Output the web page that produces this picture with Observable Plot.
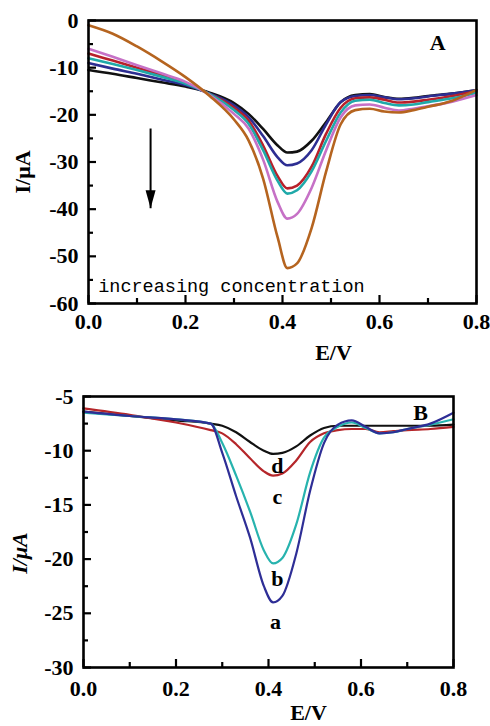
<!DOCTYPE html>
<html><head><meta charset="utf-8">
<script src="https://cdn.jsdelivr.net/npm/d3@7"></script>
<script src="https://cdn.jsdelivr.net/npm/@observablehq/plot@0.6"></script>
<style>
body{margin:0;background:#fff;width:490px;height:726px;overflow:hidden}
svg{display:block}
</style></head><body><div id="chart"></div>
<script>
// ---------- Panel A data ----------
const potentialA = [0, 0.05, 0.1, 0.15, 0.2, 0.25, 0.3, 0.33, 0.36, 0.39, 0.41, 0.43, 0.46, 0.49, 0.52, 0.55, 0.58, 0.61, 0.64, 0.67, 0.7, 0.75, 0.8];
const seriesNamesA = ["conc 1", "conc 2", "conc 3", "conc 4", "conc 5", "conc 6"];
const seriesColorsA = ["#111111", "#2d2e92", "#b8202a", "#1fa9a9", "#c671c6", "#b5641f"];
const conc1A = [-10.5, -11.3, -12.2, -13.1, -14.0, -15.3, -17.5, -19.8, -23.0, -26.5, -28.0, -27.8, -25.5, -21.5, -17.3, -15.8, -15.6, -16.2, -16.6, -16.4, -16.0, -15.5, -14.8];
const conc2A = [-9.0, -10.2, -11.3, -12.5, -13.7, -15.5, -18.0, -20.5, -24.5, -29.0, -30.7, -30.3, -27.5, -22.0, -17.3, -16.0, -15.8, -16.3, -16.7, -16.5, -16.1, -15.5, -14.8];
const conc3A = [-7.0, -8.5, -10.0, -11.5, -13.2, -15.6, -18.5, -21.2, -26.5, -33.0, -35.6, -35.0, -31.0, -24.0, -18.5, -16.5, -16.3, -16.8, -17.4, -17.2, -16.8, -16.0, -15.0];
const conc4A = [-8.0, -9.2, -10.5, -11.9, -13.4, -15.6, -19.0, -21.9, -27.5, -34.0, -36.7, -36.0, -32.0, -25.5, -19.5, -17.0, -16.8, -17.5, -18.0, -17.8, -17.3, -16.5, -15.3];
const conc5A = [-6.0, -7.7, -9.5, -11.2, -13.0, -15.8, -19.8, -22.9, -29.5, -38.5, -42.0, -41.0, -35.5, -27.5, -20.5, -18.0, -17.8, -18.5, -19.1, -18.7, -18.2, -17.2, -15.8];
const conc6A = [-1.0, -2.8, -5.5, -8.6, -12.0, -16.0, -21.0, -25.4, -33.5, -46.0, -52.5, -51.5, -44.0, -32.0, -22.0, -19.0, -18.7, -19.3, -19.5, -19.0, -18.3, -17.0, -14.7];
const valuesA = [conc1A, conc2A, conc3A, conc4A, conc5A, conc6A];

const xMajor = [0, 0.2, 0.4, 0.6, 0.8];
const xMinor = [0.1, 0.3, 0.5, 0.7];
const yMajorA = [0, -10, -20, -30, -40, -50, -60];
const yMinorA = [-5, -15, -25, -35, -45, -55];

const annotationTextA = ["increasing concentration"];
const annotationPosA = [0.02, -57.6];
const arrowA = {x: 0.128, yStart: -22.9, yEnd: -39.8};
const panelLabelA = {text: "A", x: 0.72, y: -4.7};

// ---------- Panel B data ----------
const potentialB = [0, 0.1, 0.2, 0.275, 0.3, 0.33, 0.36, 0.39, 0.41, 0.43, 0.46, 0.49, 0.52, 0.55, 0.58, 0.61, 0.64, 0.67, 0.7, 0.75, 0.8];
const seriesNamesB = ["d", "c", "b", "a"];
const seriesColorsB = ["#111111", "#b5262a", "#27b3ae", "#2e2e96"];
const curveD = [-6.4, -6.8, -7.2, -7.5, -7.7, -8.3, -9.2, -10.0, -10.3, -10.2, -9.6, -8.6, -7.9, -7.7, -7.7, -7.7, -7.7, -7.7, -7.7, -7.7, -7.6];
const curveC = [-6.1, -6.7, -7.4, -8.1, -8.4, -9.4, -10.7, -11.9, -12.3, -12.1, -10.9, -9.2, -8.4, -8.1, -8.0, -8.0, -8.3, -8.2, -8.1, -8.0, -7.8];
const curveB = [-6.5, -6.8, -7.1, -7.5, -9.3, -12.3, -15.6, -19.2, -20.4, -19.9, -16.8, -12.0, -8.8, -7.8, -7.4, -7.9, -8.4, -8.3, -8.0, -7.6, -7.1];
const curveA = [-6.4, -6.8, -7.1, -7.5, -10.2, -14.2, -18.0, -22.5, -24.0, -23.4, -19.5, -13.7, -9.3, -7.6, -7.2, -7.8, -8.4, -8.3, -8.0, -7.5, -6.5];
const valuesB = [curveD, curveC, curveB, curveA];

const yMajorB = [-5, -10, -15, -20, -25, -30];
const yMinorB = [-7.5, -12.5, -17.5, -22.5, -27.5];

const curveLabelsB = ["d", "c", "b", "a"];
const curveLabelXB = [0.419, 0.419, 0.419, 0.415];
const curveLabelYB = [-11.4, -14.3, -21.8, -25.8];
const panelLabelB = {text: "B", x: 0.729, y: -6.5};

// ---------- helpers ----------
function tidy(potentials, names, values) {
  const rows = [];
  names.forEach((name, i) => potentials.forEach((e, j) => rows.push({E: e, I: values[i][j], series: name})));
  return rows;
}
const font = "Liberation Serif";
const headDown = {draw(ctx) { ctx.moveTo(0, 9); ctx.lineTo(-5, -9); ctx.lineTo(5, -9); ctx.closePath(); }};

function ticks(o) {
  const fw = o.width - o.marginLeft - o.marginRight;
  const fh = o.height - o.marginTop - o.marginBottom;
  return [
    Plot.tickX(xMajor, {x: d => d, insetTop: fh - 8, strokeWidth: 2.2}),
    Plot.tickX(xMinor, {x: d => d, insetTop: fh - 5, strokeWidth: 2.2}),
    Plot.tickY(o.yMajor, {y: d => d, insetRight: fw - 8, strokeWidth: 2.2}),
    Plot.tickY(o.yMinor, {y: d => d, insetRight: fw - 5, strokeWidth: 2.2}),
    Plot.axisX(xMajor, {tickSize: 0, tickPadding: o.xPad, tickFormat: d => d.toFixed(1), label: null, fontSize: 22, fontWeight: "bold"}),
    Plot.axisY(o.yMajor, {tickSize: 0, tickPadding: 10, tickFormat: d => String(d), label: null, fontSize: 22, fontWeight: "bold"}),
    Plot.frame({strokeWidth: 2.6})
  ];
}

// ---------- Panel A ----------
const optA = {width: 490, height: 365, marginTop: 20, marginBottom: 62, marginLeft: 88, marginRight: 14, yMajor: yMajorA, yMinor: yMinorA, xPad: 10};
const plotA = Plot.plot({
  width: optA.width, height: optA.height,
  marginTop: optA.marginTop, marginBottom: optA.marginBottom, marginLeft: optA.marginLeft, marginRight: optA.marginRight,
  style: {fontFamily: font, fontSize: "22px", fontWeight: "bold", background: "#fff", color: "#000"},
  x: {domain: [0, 0.8], axis: null},
  y: {domain: [-60, 0], axis: null},
  color: {domain: seriesNamesA, range: seriesColorsA},
  marks: [
    Plot.line(tidy(potentialA, seriesNamesA, valuesA), {x: "E", y: "I", stroke: "series", z: "series", strokeWidth: 2.6, curve: "monotone-x"}),
    Plot.link([arrowA], {x1: "x", x2: "x", y1: "yStart", y2: "yEnd", stroke: "#000", strokeWidth: 2}),
    Plot.dot([arrowA], {x: "x", y: "yEnd", dy: -9, symbol: headDown, fill: "#000", stroke: null}),
    Plot.text(annotationTextA, {x: annotationPosA[0], y: annotationPosA[1], textAnchor: "start", lineAnchor: "bottom", fontFamily: "Liberation Mono", fontWeight: "normal", fontSize: 18.5}),
    Plot.text([panelLabelA], {x: "x", y: "y", text: "text", fontSize: 22, fontWeight: "bold"}),
    ...ticks(optA),
    Plot.text(["E/V"], {frameAnchor: "bottom", textAnchor: "middle", lineAnchor: "middle", dx: 51, dy: 49, fontSize: 22, fontWeight: "bold"}),
    Plot.text(["I/μA"], {frameAnchor: "left", textAnchor: "middle", lineAnchor: "middle", rotate: -90, dx: -66, dy: 10, fontSize: 22, fontWeight: "bold"})
  ]
});

// ---------- Panel B ----------
const optB = {width: 490, height: 361, marginTop: 31, marginBottom: 59, marginLeft: 83, marginRight: 37, yMajor: yMajorB, yMinor: yMinorB, xPad: 13};
const plotB = Plot.plot({
  width: optB.width, height: optB.height,
  marginTop: optB.marginTop, marginBottom: optB.marginBottom, marginLeft: optB.marginLeft, marginRight: optB.marginRight,
  style: {fontFamily: font, fontSize: "22px", fontWeight: "bold", background: "#fff", color: "#000"},
  x: {domain: [0, 0.8], axis: null},
  y: {domain: [-30, -5], axis: null},
  color: {domain: seriesNamesB, range: seriesColorsB},
  marks: [
    Plot.line(tidy(potentialB, seriesNamesB, valuesB), {x: "E", y: "I", stroke: "series", z: "series", strokeWidth: 2.2, curve: "monotone-x"}),
    Plot.text(curveLabelsB, {x: (d, i) => curveLabelXB[i], y: (d, i) => curveLabelYB[i], fontSize: 22, fontWeight: "bold"}),
    Plot.text([panelLabelB], {x: "x", y: "y", text: "text", fontSize: 22, fontWeight: "bold"}),
    ...ticks(optB),
    Plot.text(["E/V"], {frameAnchor: "bottom", textAnchor: "middle", lineAnchor: "middle", dx: 40, dy: 45, fontSize: 22, fontWeight: "bold"}),
    Plot.text(["I/μA"], {frameAnchor: "left", textAnchor: "middle", lineAnchor: "middle", rotate: -90, dx: -64, dy: 21, fontSize: 22, fontWeight: "bold", fontStyle: "italic"})
  ]
});

document.getElementById("chart").append(plotA, plotB);
</script></body></html>
